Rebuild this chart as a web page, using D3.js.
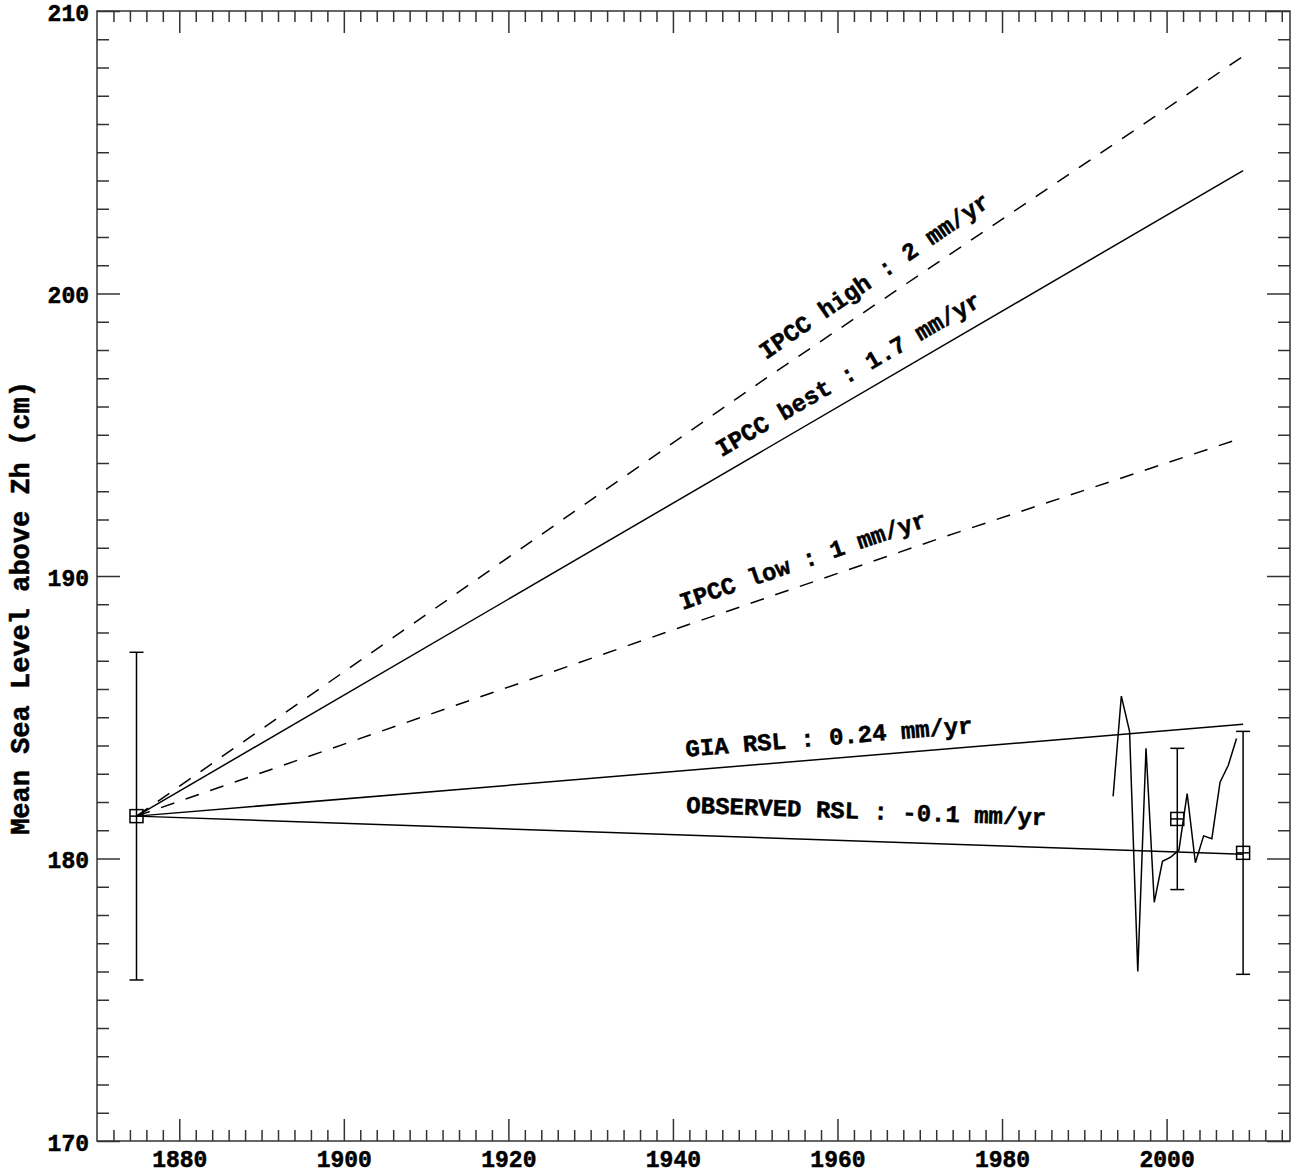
<!DOCTYPE html>
<html>
    <head>
        <title>mean sea level</title>
        <script src="https://cdn.jsdelivr.net/npm/d3@7"></script>
        <style>
            body{margin:0;background:#fff;}
            text{font-family:"Liberation Mono","Courier New",monospace;font-weight:bold;fill:#000;stroke:#000;stroke-width:0.5px;}
        </style>
    </head>
    <body>
        <svg width="1292" height="1175" id="mainsvg"></svg>
        <script>
            // yearly means of the gauge (cm above Zh)
            const gaugeYears=[1993.5,1994.5,1995.5,1996.5,1997.5,1998.5,1999.5,2000.5,2001.5,2002.5,2003.5,2004.5,2005.5,2006.5,2007.5,2008.5];
            const gaugeValues=[182.2,185.75,184.5,176.0,183.9,178.45,179.9,180.05,180.3,182.3,179.85,180.8,180.7,182.7,183.3,184.25];

            // levels with error bars
            const benchYears=[1874.8,2001.3,2009.3];
            const benchValues=[181.5,181.4,180.2];
            const benchErrors=[5.8,2.5,4.3];

            // straight trends from the 1875 level, end values at 2009.3
            const trendNames=['IPCC best : 1.7 mm/yr','GIA RSL : 0.24 mm/yr','OBSERVED RSL : -0.1 mm/yr'];
            const trendEndYear=2009.3;
            const trendEnds=[204.35,184.75,180.15];

            // dashed IPCC curves
            const highYears=[1874.8,1951.5,1998.5,2009.3];
            const highValues=[181.5,197.04,206.25,208.4];
            const lowYears=[1874.8,1940.6,1972.4,2009.3];
            const lowValues=[181.5,188.15,191.33,194.9];

            const xTicks=[1880,1900,1920,1940,1960,1980,2000];
            const yTicks=[170,180,190,200,210];
            const yTitle='Mean Sea Level above Zh (cm)';

            const svg=d3.select('svg');
            const width=+svg.attr('width');
            const height=+svg.attr('height');
            const margin={top:11,right:2,bottom:34,left:97};
            const innerWidth=width-margin.left-margin.right;
            const innerHeight=height-margin.top-margin.bottom;
            const mainGroup=svg.append('g').attr('transform',`translate(${margin.left}, ${margin.top})`).attr('id','maingroup');

            const xScale=d3.scaleLinear().domain([1870,2015]).range([0,innerWidth]);
            const yScale=d3.scaleLinear().domain([170,210]).range([innerHeight,0]);

            const line=d3.line().x(d=>xScale(d[0])).y(d=>yScale(d[1]));

            //axes: ticks point inward on all four sides
            const minorX=d3.range(1872,2015,2).filter(d=>d%20!==0);
            const minorY=d3.range(171,210,1).filter(d=>d%10!==0);
            const axisColor='#333';

            const drawAxis=(axis,tr,labels)=>{
                const g=mainGroup.append('g').attr('transform',tr).call(axis);
                g.select('.domain').remove();
                g.selectAll('line').attr('stroke',axisColor).attr('stroke-width',1.5);
                if(!labels) g.selectAll('text').remove();
                return g;
            };
            // minor
            drawAxis(d3.axisBottom(xScale).tickValues(minorX).tickSize(-11),`translate(0,${innerHeight})`,false);
            drawAxis(d3.axisTop(xScale).tickValues(minorX).tickSize(-11),'translate(0,0)',false);
            drawAxis(d3.axisLeft(yScale).tickValues(minorY).tickSize(-12),'translate(0,0)',false);
            drawAxis(d3.axisRight(yScale).tickValues(minorY).tickSize(-12),`translate(${innerWidth},0)`,false);
            // major
            const xAxisGroup=drawAxis(d3.axisBottom(xScale).tickValues(xTicks).tickSize(-22).tickPadding(10).tickFormat(d3.format('d')),`translate(0,${innerHeight})`,true);
            drawAxis(d3.axisTop(xScale).tickValues(xTicks).tickSize(-22),'translate(0,0)',false);
            const yAxisGroup=drawAxis(d3.axisLeft(yScale).tickValues(yTicks).tickSize(-23).tickPadding(8),'translate(0,0)',true);
            drawAxis(d3.axisRight(yScale).tickValues(yTicks).tickSize(-23),`translate(${innerWidth},0)`,false);

            xAxisGroup.selectAll('text').attr('font-size',23).attr('fill','#000');
            yAxisGroup.selectAll('text').attr('font-size',23).attr('fill','#000').attr('dy','0.4em');

            mainGroup.append('rect').attr('width',innerWidth).attr('height',innerHeight)
                .attr('fill','none').attr('stroke',axisColor).attr('stroke-width',1.5);

            svg.append('text')
                .attr('transform',`translate(29,${margin.top+597}) rotate(-90)`)
                .attr('text-anchor','middle').attr('font-size',27)
                .text(yTitle);

            // trend lines
            const start=[benchYears[0],benchValues[0]];
            mainGroup.selectAll('.trend').data(trendEnds).join('path')
                .attr('class','trend')
                .attr('fill','none').attr('stroke','#000').attr('stroke-width',1.5)
                .attr('d',d=>line([start,[trendEndYear,d]]));

            const dashed=[d3.zip(highYears,highValues),d3.zip(lowYears,lowValues)];
            mainGroup.selectAll('.ipcc').data(dashed).join('path')
                .attr('class','ipcc')
                .attr('fill','none').attr('stroke','#000').attr('stroke-width',1.5)
                .attr('stroke-dasharray','14,12')
                .attr('d',d=>line(d));

            // gauge series
            mainGroup.append('path')
                .attr('fill','none').attr('stroke','#000').attr('stroke-width',1.5)
                .attr('d',line(d3.zip(gaugeYears,gaugeValues)));

            // error bars and boxed-plus markers
            const bench=benchYears.map((d,i)=>({year:d,value:benchValues[i],err:benchErrors[i]}));
            const bars=mainGroup.selectAll('.bench').data(bench).join('g')
                .attr('class','bench')
                .attr('transform',d=>`translate(${xScale(d.year)},0)`)
                .attr('stroke','#000').attr('stroke-width',1.5).attr('fill','none');
            bars.append('line').attr('y1',d=>yScale(d.value+d.err)).attr('y2',d=>yScale(d.value-d.err));
            bars.append('line').attr('x1',-7).attr('x2',7).attr('y1',d=>yScale(d.value+d.err)).attr('y2',d=>yScale(d.value+d.err));
            bars.append('line').attr('x1',-7).attr('x2',7).attr('y1',d=>yScale(d.value-d.err)).attr('y2',d=>yScale(d.value-d.err));
            bars.append('rect').attr('x',-6.5).attr('y',d=>yScale(d.value)-6.5).attr('width',13).attr('height',13);
            bars.append('line').attr('x1',-6.5).attr('x2',6.5).attr('y1',d=>yScale(d.value)).attr('y2',d=>yScale(d.value));

            // labels along the lines
            const angleOf=(p0,p1)=>Math.atan2(yScale(p1[1])-yScale(p0[1]),xScale(p1[0])-xScale(p0[0]))*180/Math.PI;
            const labels=[
                {text:'IPCC high : 2 mm/yr',at:[1951.3,197.65],ang:angleOf(start,[highYears[3],highValues[3]])},
                {text:trendNames[0],at:[1945.9,194.2],ang:angleOf(start,[trendEndYear,trendEnds[0]])},
                {text:'IPCC low : 1 mm/yr',at:[1941.2,188.8],ang:angleOf(start,[lowYears[3],lowValues[3]])},
                {text:trendNames[1],at:[1941.6,183.6],ang:angleOf(start,[trendEndYear,trendEnds[1]])},
                {text:trendNames[2],at:[1941.6,181.62],ang:angleOf(start,[trendEndYear,trendEnds[2]])}
            ];
            mainGroup.selectAll('.lab').data(labels).join('text')
                .attr('class','lab')
                .attr('font-size',24)
                .attr('transform',d=>`translate(${xScale(d.at[0])},${yScale(d.at[1])}) rotate(${d.ang})`)
                .text(d=>d.text);
        </script>
    </body>
</html>
